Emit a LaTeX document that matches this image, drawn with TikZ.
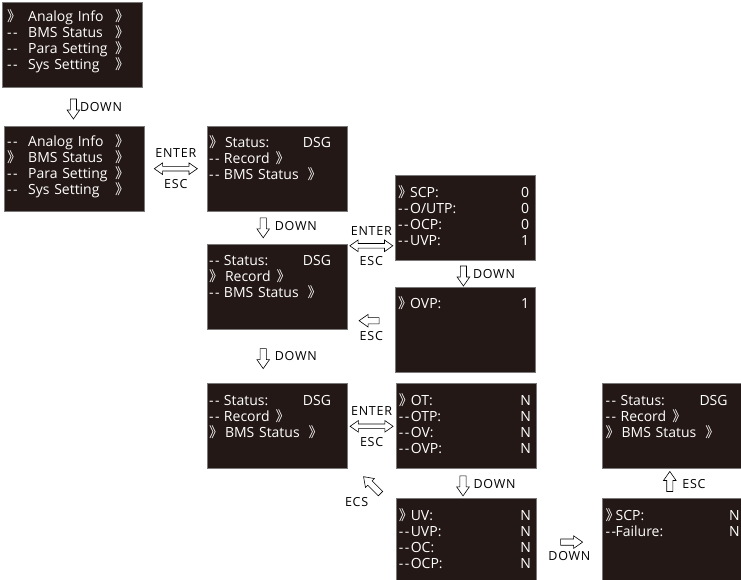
\documentclass[tikz,border=0pt]{standalone}
\usepackage{fontspec}
\setmainfont{Open Sans}
\newfontfamily\cjk{Noto Sans CJK SC}
\newfontfamily\lblfont[LetterSpace=6]{Open Sans}
\usetikzlibrary{shapes.arrows, positioning, calc}

\definecolor{lcdbg}{RGB}{35,24,21}
\definecolor{lcdrim}{RGB}{120,120,120}

% menu marks on the screens
\newcommand{\chev}{\makebox[6pt][l]{\cjk 》}}
\newcommand{\on}[1]{\makebox[#1][l]{\chev}}
\newcommand{\off}[1]{\makebox[#1][l]{-\kern1.5pt-}}
\newcommand{\val}[1]{\hspace{0pt plus 1filll}#1}

\begin{document}
\begin{tikzpicture}[x=1pt, y=-1pt,
  % --- styles ------------------------------------------------------------
  screen/.style={
    rectangle, draw=lcdrim, fill=lcdbg, line width=0.8pt,
    minimum width=140pt, minimum height=85pt, inner sep=0pt
  },
  lcd/.style={text=white, font=\fontsize{14}{16}\selectfont,
    align=left, inner sep=0pt, anchor=base west},
  lbl/.style={font=\lblfont\fontsize{12.5}{14}\selectfont, inner sep=0pt},
  hollow/.style={single arrow, draw, fill=white, line width=0.6pt,
    minimum height=20pt, inner sep=2.8pt, single arrow head extend=3.2pt,
    single arrow tip angle=70},
  biarr/.style={double arrow, draw, fill=white, line width=0.6pt,
    minimum height=43pt, inner sep=2pt, double arrow head extend=3.5pt,
    double arrow tip angle=70},
  dnarr/.style={hollow, shape border rotate=270}
]
\useasboundingbox (0,0) rectangle (741,580);

% --------------------- screens ------------------------------------------
\node[screen, anchor=north west] (menu1) at (2,2) {};
\node[screen, below=38pt of menu1, xshift=2pt] (menu2) {};
\node[screen, right=62pt of menu2] (stat1) {};
\node[screen, below=32pt of stat1] (stat2) {};
\node[screen, below=54pt of stat2] (stat3) {};
\node[screen, anchor=north west] (prot1) at (395,175) {};
\node[screen, below=26pt of prot1] (prot2) {};
\node[screen, right=48pt of stat3] (temp1) {};
\node[screen, below=29pt of temp1] (temp2) {};
\node[screen, right=66pt of temp2] (scp1) {};
\node[screen, above=29pt of scp1] (stat4) {};

% --------------------- screen texts -------------------------------------
\node[lcd, text width=134pt] (menu1txt) at ($(menu1.north west)+(5,20)$) {%
  \on{21pt}\makebox[87pt][l]{Analog Info}\chev\\
  \off{21pt}\makebox[87pt][l]{BMS Status}\chev\\
  \off{21pt}\makebox[87pt][l]{Para Setting}\chev\\
  \off{21pt}\makebox[87pt][l]{Sys Setting}\chev};
\node[lcd, text width=134pt] (menu2txt) at ($(menu2.north west)+(3,21)$) {%
  \off{21pt}\makebox[87pt][l]{Analog Info}\chev\\
  \on{21pt}\makebox[87pt][l]{BMS Status}\chev\\
  \off{21pt}\makebox[87pt][l]{Para Setting}\chev\\
  \off{21pt}\makebox[87pt][l]{Sys Setting}\chev};
\node[lcd, text width=122pt] (stat1txt) at ($(stat1.north west)+(2,22)$) {%
  \on{16pt}Status:\val{DSG}\\
  \off{15pt}Record\hspace{6pt}\chev\\
  \off{15pt}BMS Status\hspace{9pt}\chev};
\node[lcd, text width=122pt] (stat2txt) at ($(stat2.north west)+(2,22)$) {%
  \off{15pt}Status:\val{DSG}\\
  \on{16pt}Record\hspace{6pt}\chev\\
  \off{15pt}BMS Status\hspace{9pt}\chev};
\node[lcd, text width=122pt] (stat3txt) at ($(stat3.north west)+(2,22)$) {%
  \off{15pt}Status:\val{DSG}\\
  \off{15pt}Record\hspace{6pt}\chev\\
  \on{16pt}BMS Status\hspace{9pt}\chev};
\node[lcd, text width=122pt] (stat4txt) at ($(stat4.north west)+(3,22)$) {%
  \off{15pt}Status:\val{DSG}\\
  \off{15pt}Record\hspace{6pt}\chev\\
  \on{16pt}BMS Status\hspace{9pt}\chev};
\node[lcd, text width=131pt] (prot1txt) at ($(prot1.north west)+(3,22)$) {%
  \on{12pt}SCP:\val{0}\\
  \off{12pt}O/UTP:\val{0}\\
  \off{12pt}OCP:\val{0}\\
  \off{12pt}UVP:\val{1}};
\node[lcd, text width=131pt] (prot2txt) at ($(prot2.north west)+(3,22)$) {%
  \on{12pt}OVP:\val{1}};
\node[lcd, text width=132pt] (temp1txt) at ($(temp1.north west)+(3,22)$) {%
  \on{12pt}OT:\val{N}\\
  \off{12pt}OTP:\val{N}\\
  \off{12pt}OV:\val{N}\\
  \off{12pt}OVP:\val{N}};
\node[lcd, text width=132pt] (temp2txt) at ($(temp2.north west)+(3,22)$) {%
  \on{12pt}UV:\val{N}\\
  \off{12pt}UVP:\val{N}\\
  \off{12pt}OC:\val{N}\\
  \off{12pt}OCP:\val{N}};
\node[lcd, text width=134pt] (scp1txt) at ($(scp1.north west)+(3,22)$) {%
  \on{10pt}SCP:\val{N}\\
  \off{10pt}Failure:\val{N}};

% --------------------- hollow arrows and keys ---------------------------
\node[dnarr] (down1) at ($(menu1.south)!0.5!(menu2.north)$) {};
\node[lbl, right=3pt of down1] (down1txt) {DOWN};

\node[biarr] (key1) at ($(menu2.east)!0.5!(stat1.west)$) {};
\node[lbl, above=8pt of key1] (enter1) {ENTER};
\node[lbl, below=8pt of key1] (esc1) {ESC};

\node[dnarr] (down2) at ($(stat1.south)!0.5!(stat2.north)+(-14,-2)$) {};
\node[lbl, right=8pt of down2] (down2txt) {DOWN};

\node[biarr] (key2) at ($(stat2.east |- prot1.south)!0.5!(prot1.south west)+(0,-15)$) {};
\node[lbl, above=8pt of key2] (enter2) {ENTER};
\node[lbl, below=8pt of key2] (esc2) {ESC};

\node[dnarr] (down3) at ($(prot1.south)!0.5!(prot2.north)+(-2,0)$) {};
\node[lbl, right=6pt of down3] (down3txt) {DOWN};

\node[hollow, shape border rotate=180] (back1) at ($(stat2.east |- prot2.west)!0.5!(prot2.west)+(0,-9)$) {};
\node[lbl, below=7pt of back1] (esc3) {ESC};

\node[dnarr] (down4) at ($(stat2.south)!0.5!(stat3.north)+(-14,0)$) {};
\node[lbl, right=8pt of down4] (down4txt) {DOWN};

\node[biarr] (key3) at ($(stat3.east)!0.5!(temp1.west)$) {};
\node[lbl, above=8pt of key3] (enter3) {ENTER};
\node[lbl, below=8pt of key3] (esc4) {ESC};

\node[dnarr] (down5) at ($(temp1.south)!0.5!(temp2.north)+(-3,0)$) {};
\node[lbl, right=7pt of down5] (down5txt) {DOWN};

\node[hollow, minimum height=24pt, rotate=135] (back2) at ($(stat3.south east)!0.5!(temp2.north west)+(2,3)$) {};
\node[lbl] (ecs1) at ($(back2)+(-17,15)$) {ECS};

\node[hollow, minimum height=22pt] (down6) at ($(temp2.east)!0.5!(scp1.west)+(0,1)$) {};
\node[lbl, below=6pt of down6] (down6txt) {DOWN};

\node[hollow, shape border rotate=90] (back3) at ($(stat4.south)!0.5!(scp1.north)+(-3,0)$) {};
\node[lbl, right=9pt of back3] (esc5) {ESC};

\end{tikzpicture}
\end{document}
